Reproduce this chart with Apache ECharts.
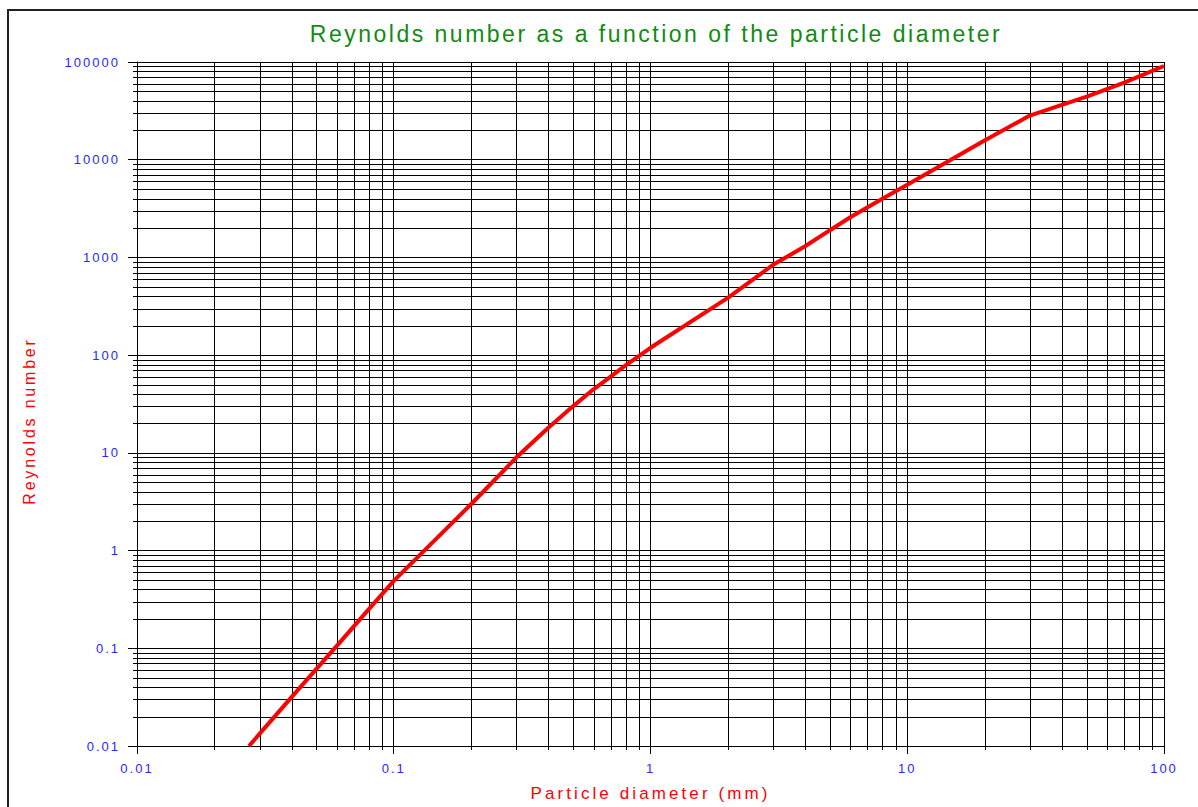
<!DOCTYPE html>
<html>
<head>
<meta charset="utf-8">
<script src="https://cdn.jsdelivr.net/npm/echarts@6/dist/echarts.min.js"></script>
<style>
    html, body { margin: 0; padding: 0; background: #fff; }
    #main { width: 1198px; height: 807px; }
    /* the original plot uses letter-spaced text */
    #main text[style*="23px"] { letter-spacing: 2.5px; }
    #main text[style*="13px"] { letter-spacing: 2px; }
    #main text[style*="16px"] { letter-spacing: 2.8px; }
    #main text[style*="17px"] { letter-spacing: 3.1px; }
</style>
</head>
<body>
<div id="main"></div>
<script>
    // curve (particle diameter in mm -> Reynolds number)
    var diameters = [0.0273, 0.03, 0.04, 0.05, 0.06, 0.08, 0.1, 0.2, 0.3, 0.4, 0.5, 0.6, 0.8,
        1, 2, 3, 4, 5, 6, 8, 10, 20, 30, 40, 50, 70, 100];
    var reynolds = [0.01, 0.0133, 0.0316, 0.0616, 0.106, 0.252, 0.49, 2.98, 8.95, 18.1, 30.1, 44.7, 78.5,
        119, 385, 840, 1300, 1900, 2580, 3986, 5545, 15710, 28300, 36400, 44200, 61500, 91000];

    var xTickLabels = ['0.01', '0.1', '1', '10', '100'];
    var yTickLabels = ['0.01', '0.1', '1', '10', '100', '1000', '10000', '100000'];

    var X_MIN = 0.01, X_MAX = 100, Y_MIN = 0.01, Y_MAX = 100000;

    // minor grid values: 2..9 inside each decade
    var minorSteps = [2, 3, 4, 5, 6, 7, 8, 9];
    var xDecades = [0.01, 0.1, 1, 10];
    var yDecades = [0.01, 0.1, 1, 10, 100, 1000, 10000];

    var xMinor = [], yMinor = [];
    xDecades.forEach(function (d) {
        minorSteps.forEach(function (k) { xMinor.push([+(k * d).toPrecision(3), Y_MIN]); });
    });
    yDecades.forEach(function (d) {
        minorSteps.forEach(function (k) { yMinor.push([X_MIN, +(k * d).toPrecision(3)]); });
    });

    var curve = diameters.map(function (d, i) { return [d, reynolds[i]]; });

    var BLUE = '#2727ff';
    var RED = '#ff0000';
    var FONT = 'Liberation Sans, Arial, sans-serif';

    function labelFor(list, base) {
        return function (v) {
            var i = Math.round(Math.log10(v)) - base;
            return list[i] !== undefined ? list[i] : '';
        };
    }

    var myChart = echarts.init(document.getElementById('main'), null, { renderer: 'svg' });

    var option = {
        animation: false,
        backgroundColor: '#fff',
        title: {
            text: 'Reynolds number as a function of the particle diameter',
            left: 651,
            top: 17,
            textAlign: 'center',
            textStyle: {
                color: '#138a13',
                fontSize: 23,
                fontWeight: 'normal',
                fontFamily: FONT
            }
        },
        graphic: [{
            type: 'rect',
            shape: { x: 8, y: 10, width: 1300, height: 900 },
            style: { fill: null, stroke: '#222', lineWidth: 2 },
            silent: true
        }],
        grid: {
            left: 137,
            top: 62,
            right: 34,
            bottom: 59,
            containLabel: false
        },
        xAxis: {
            type: 'log',
            logBase: 10,
            min: X_MIN,
            max: X_MAX,
            name: 'Particle diameter (mm)',
            nameLocation: 'middle',
            nameGap: 39,
            nameTextStyle: { color: RED, fontSize: 17, fontFamily: FONT },
            axisLine: { show: true, lineStyle: { color: '#000', width: 1 } },
            axisTick: { show: true, inside: false, length: 8, lineStyle: { color: '#000' } },
            axisLabel: {
                color: BLUE,
                fontSize: 13,
                fontFamily: FONT,
                margin: 16,
                formatter: labelFor(xTickLabels, -2)
            },
            splitLine: { show: true, lineStyle: { color: '#000', width: 1 } },
            minorTick: { show: false },
            minorSplitLine: { show: false }
        },
        yAxis: {
            type: 'log',
            logBase: 10,
            min: Y_MIN,
            max: Y_MAX,
            name: 'Reynolds number',
            nameLocation: 'middle',
            nameGap: 100,
            nameRotate: 90,
            nameTextStyle: {
                color: RED,
                fontSize: 16,
                fontFamily: FONT,
                padding: [0, 34, 0, 0]
            },
            axisLine: { show: true, lineStyle: { color: '#000', width: 1 } },
            axisTick: { show: true, inside: false, length: 9, lineStyle: { color: '#000' } },
            axisLabel: {
                color: BLUE,
                fontSize: 13,
                fontFamily: FONT,
                margin: 17,
                formatter: labelFor(yTickLabels, -2)
            },
            splitLine: { show: true, lineStyle: { color: '#000', width: 1 } },
            minorTick: { show: false },
            minorSplitLine: { show: false }
        },
        tooltip: { show: false },
        series: [
            {
                // vertical minor grid lines + short ticks below the axis
                type: 'custom',
                silent: true,
                clip: false,
                data: xMinor,
                encode: { x: 0, y: 1 },
                renderItem: function (params, api) {
                    var cs = params.coordSys;
                    var x = Math.round(api.coord([api.value(0), Y_MIN])[0]) + 0.5;
                    return {
                        type: 'line',
                        shape: { x1: x, y1: cs.y, x2: x, y2: cs.y + cs.height + 4 },
                        style: { stroke: '#000', lineWidth: 1 }
                    };
                },
                z: 1
            },
            {
                // horizontal minor grid lines + short ticks left of the axis
                type: 'custom',
                silent: true,
                clip: false,
                data: yMinor,
                encode: { x: 0, y: 1 },
                renderItem: function (params, api) {
                    var cs = params.coordSys;
                    var y = Math.round(api.coord([X_MIN, api.value(1)])[1]) + 0.5;
                    return {
                        type: 'line',
                        shape: { x1: cs.x - 4, y1: y, x2: cs.x + cs.width, y2: y },
                        style: { stroke: '#000', lineWidth: 1 }
                    };
                },
                z: 1
            },
            {
                name: 'Reynolds number',
                type: 'line',
                data: curve,
                showSymbol: false,
                smooth: false,
                lineStyle: { color: RED, width: 4 },
                z: 5
            }
        ]
    };

    myChart.setOption(option);
</script>
</body>
</html>
